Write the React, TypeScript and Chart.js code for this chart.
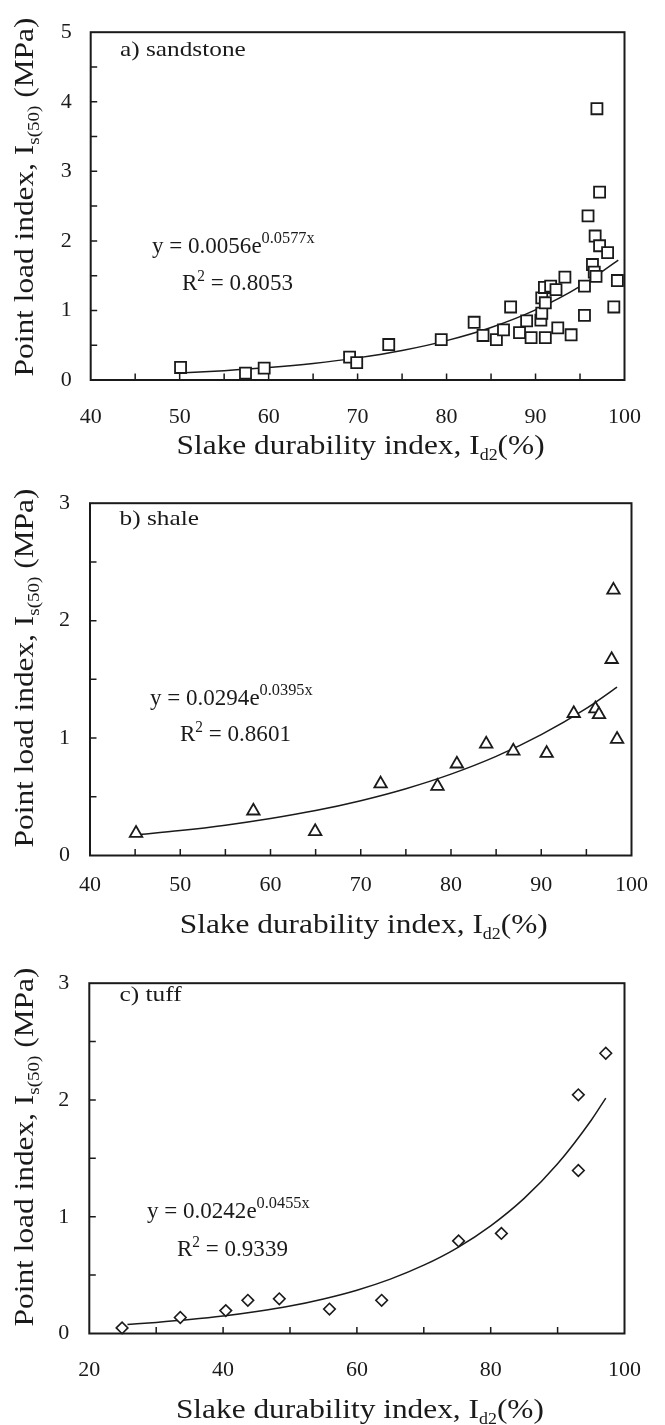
import React, { useEffect, useRef } from 'react';
import { Chart, registerables } from 'chart.js';

Chart.register(...registerables);

const FONT = "'Liberation Serif', 'Times New Roman', Times, serif";
const INK = '#1a1a1a';

// ---------- a) sandstone ----------
const sandstoneX = [50.1, 57.4, 59.5, 69.1, 69.9, 73.5, 79.4, 83.1, 84.1, 85.6, 86.4, 87.2, 88.2, 89.0, 89.5, 90.6, 90.7, 90.7, 91.0, 91.1, 91.1, 91.7, 92.3, 92.5, 93.3, 94.0, 95.5, 95.5, 95.9, 96.4, 96.6, 96.8, 96.7, 96.9, 97.2, 97.2, 98.1, 98.8, 99.2];
const sandstoneY = [0.18, 0.10, 0.17, 0.33, 0.25, 0.51, 0.58, 0.83, 0.64, 0.58, 0.72, 1.05, 0.68, 0.85, 0.61, 0.86, 0.96, 1.18, 1.33, 1.11, 0.61, 1.35, 1.30, 0.75, 1.48, 0.65, 0.93, 1.35, 2.36, 1.66, 1.55, 1.49, 2.07, 3.90, 1.93, 2.70, 1.83, 1.05, 1.43];
const sandstoneFitX = [50, 55, 60, 65, 70, 75, 80, 85, 90, 95, 99.3];
const sandstoneFitY = [0.100, 0.134, 0.179, 0.238, 0.318, 0.424, 0.566, 0.755, 1.008, 1.345, 1.724];
const sandstoneXTicks = [40, 50, 60, 70, 80, 90, 100];
const sandstoneXMarks = [45, 50, 55, 60, 65, 70, 75, 80, 85, 90, 95];
const sandstoneYTicks = [0, 1, 2, 3, 4, 5];
const sandstoneYMarks = [0.5, 1, 1.5, 2, 2.5, 3, 3.5, 4, 4.5];

// ---------- b) shale ----------
const shaleX = [45.1, 58.1, 64.95, 72.2, 78.5, 80.65, 83.9, 86.9, 90.6, 93.6, 96.0, 96.4, 98.0, 97.8, 98.4];
const shaleY = [0.19, 0.38, 0.205, 0.61, 0.59, 0.78, 0.95, 0.89, 0.87, 1.21, 1.25, 1.20, 2.26, 1.67, 0.99];
const shaleFitX = [45.1, 50, 55, 60, 65, 70, 75, 80, 85, 90, 95, 98.4];
const shaleFitY = [0.175, 0.212, 0.258, 0.315, 0.383, 0.467, 0.569, 0.693, 0.844, 1.029, 1.253, 1.434];
const shaleXTicks = [40, 50, 60, 70, 80, 90, 100];
const shaleXMarks = [45, 50, 55, 60, 65, 70, 75, 80, 85, 90, 95];
const shaleYTicks = [0, 1, 2, 3];
const shaleYMarks = [0.5, 1, 1.5, 2, 2.5];

// ---------- c) tuff ----------
const tuffX = [24.9, 33.6, 40.4, 43.7, 48.4, 55.9, 63.7, 75.2, 81.6, 93.1, 93.1, 97.2];
const tuffY = [0.048, 0.137, 0.196, 0.284, 0.297, 0.209, 0.284, 0.793, 0.857, 1.396, 2.044, 2.40];
const tuffFitX = [25.7, 30, 35, 40, 45, 50, 55, 60, 65, 70, 75, 80, 85, 90, 95, 97.2];
const tuffFitY = [0.078, 0.095, 0.119, 0.149, 0.188, 0.235, 0.296, 0.371, 0.466, 0.585, 0.734, 0.922, 1.157, 1.453, 1.824, 2.016];
const tuffXTicks = [20, 40, 60, 80, 100];
const tuffXMarks = [30, 40, 50, 60, 70, 80, 90];
const tuffYTicks = [0, 1, 2, 3];
const tuffYMarks = [0.5, 1, 1.5, 2, 2.5];

type Seg = { t: string; size: number; dy?: number };

function drawRich(
  ctx: CanvasRenderingContext2D,
  segs: Seg[],
  x: number,
  y: number,
  sx: number,
  center: boolean,
  rot: boolean
) {
  ctx.save();
  ctx.translate(x, y);
  if (rot) ctx.rotate(-Math.PI / 2);
  ctx.scale(sx, 1);
  ctx.fillStyle = INK;
  ctx.textBaseline = 'alphabetic';
  ctx.textAlign = 'left';
  const widths = segs.map((s) => {
    ctx.font = `${s.size}px ${FONT}`;
    return ctx.measureText(s.t).width;
  });
  const total = widths.reduce((a, b) => a + b, 0);
  let cx = center ? -total / 2 : 0;
  segs.forEach((s, i) => {
    ctx.font = `${s.size}px ${FONT}`;
    ctx.fillText(s.t, cx, s.dy ?? 0);
    cx += widths[i];
  });
  ctx.restore();
}

type PanelCfg = {
  canvasTop: number;
  canvasH: number;
  left: number;
  right: number;
  top: number;
  bottom: number;
  xMin: number;
  xMax: number;
  yMin: number;
  yMax: number;
  xs: number[];
  ys: number[];
  fx: number[];
  fy: number[];
  xTicks: number[];
  xMarks: number[];
  yTicks: number[];
  yMarks: number[];
  marker: string;
  radius: number;
  markerWidth: number;
  xPad: number;
  yPad: number;
  label: string;
  labelX: number;
  labelY: number;
  eq: Seg[];
  eqX: number;
  eqY: number;
  r2: Seg[];
  r2X: number;
  r2Y: number;
  xTitleY: number;
  yTitleY: number;
};

const W = 665;

const panels: PanelCfg[] = [
  {
    canvasTop: 0, canvasH: 470,
    left: 90.7, right: 629.3, top: 14.3, bottom: 380,
    xMin: 40, xMax: 100, yMin: 0, yMax: 5,
    xs: sandstoneX, ys: sandstoneY, fx: sandstoneFitX, fy: sandstoneFitY,
    xTicks: sandstoneXTicks, xMarks: sandstoneXMarks, yTicks: sandstoneYTicks, yMarks: sandstoneYMarks,
    marker: 'rect', radius: 7.8, markerWidth: 1.8,
    xPad: 24, yPad: 19,
    label: 'a) sandstone', labelX: 120, labelY: 56,
    eq: [{ t: 'y = 0.0056e', size: 24 }, { t: '0.0577x', size: 17, dy: -10 }], eqX: 152, eqY: 253,
    r2: [{ t: 'R', size: 24 }, { t: '2', size: 16, dy: -9 }, { t: ' = 0.8053', size: 24 }], r2X: 182, r2Y: 290,
    xTitleY: 454, yTitleY: 197,
  },
  {
    canvasTop: 470, canvasH: 480,
    left: 90, right: 635.5, top: 481, bottom: 855.5,
    xMin: 40, xMax: 100, yMin: 0, yMax: 3,
    xs: shaleX, ys: shaleY, fx: shaleFitX, fy: shaleFitY,
    xTicks: shaleXTicks, xMarks: shaleXMarks, yTicks: shaleYTicks, yMarks: shaleYMarks,
    marker: 'triangle', radius: 7.2, markerWidth: 1.8,
    xPad: 17, yPad: 20,
    label: 'b) shale', labelX: 119.5, labelY: 525,
    eq: [{ t: 'y = 0.0294e', size: 24 }, { t: '0.0395x', size: 17, dy: -10 }], eqX: 150, eqY: 705,
    r2: [{ t: 'R', size: 24 }, { t: '2', size: 16, dy: -9 }, { t: ' = 0.8601', size: 24 }], r2X: 180, r2Y: 741,
    xTitleY: 933, yTitleY: 668,
  },
  {
    canvasTop: 950, canvasH: 475,
    left: 89.3, right: 626.7, top: 961, bottom: 1333.5,
    xMin: 20, xMax: 100, yMin: 0, yMax: 3,
    xs: tuffX, ys: tuffY, fx: tuffFitX, fy: tuffFitY,
    xTicks: tuffXTicks, xMarks: tuffXMarks, yTicks: tuffYTicks, yMarks: tuffYMarks,
    marker: 'rectRot', radius: 5.8, markerWidth: 1.6,
    xPad: 24, yPad: 20,
    label: 'c) tuff', labelX: 119.5, labelY: 1001,
    eq: [{ t: 'y = 0.0242e', size: 24 }, { t: '0.0455x', size: 17, dy: -10 }], eqX: 147, eqY: 1218,
    r2: [{ t: 'R', size: 24 }, { t: '2', size: 16, dy: -9 }, { t: ' = 0.9339', size: 24 }], r2X: 177, r2Y: 1256,
    xTitleY: 1418, yTitleY: 1147,
  },
];

function buildConfig(p: PanelCfg): any {
  const top = p.top - p.canvasTop;
  const bottom = p.bottom - p.canvasTop;
  const decor = {
    id: 'decor',
    afterDraw(chart: any) {
      const ctx: CanvasRenderingContext2D = chart.ctx;
      const a = chart.chartArea;
      const xs = chart.scales.x;
      const ys = chart.scales.y;
      ctx.save();
      ctx.strokeStyle = INK;
      ctx.lineWidth = 1.5;
      ctx.beginPath();
      p.xMarks.forEach((v) => {
        const px = xs.getPixelForValue(v);
        ctx.moveTo(px, a.bottom);
        ctx.lineTo(px, a.bottom - 6.5);
      });
      p.yMarks.forEach((v) => {
        const py = ys.getPixelForValue(v);
        ctx.moveTo(a.left, py);
        ctx.lineTo(a.left + 6.5, py);
      });
      ctx.stroke();
      ctx.lineWidth = 2;
      ctx.strokeRect(a.left, a.top, a.right - a.left, a.bottom - a.top);
      ctx.restore();

      const off = p.canvasTop;
      drawRich(ctx, [{ t: p.label, size: 22 }], p.labelX, p.labelY - off, 1.15, false, false);
      drawRich(ctx, p.eq, p.eqX, p.eqY - off, 0.96, false, false);
      drawRich(ctx, p.r2, p.r2X, p.r2Y - off, 0.96, false, false);
      drawRich(
        ctx,
        [
          { t: 'Slake durability index, I', size: 28 },
          { t: 'd2', size: 16, dy: 6 },
          { t: '(%)', size: 28 },
        ],
        (a.left + a.right) / 2 + 3,
        p.xTitleY - off,
        1.12,
        true,
        false
      );
      drawRich(
        ctx,
        [
          { t: 'Point load index, I', size: 28 },
          { t: 's(50)', size: 17, dy: 6 },
          { t: ' (MPa)', size: 28 },
        ],
        33,
        p.yTitleY - off,
        1.12,
        true,
        true
      );
    },
  };

  return {
    type: 'scatter',
    data: {
      datasets: [
        {
          data: p.xs.map((x, i) => ({ x, y: p.ys[i] })),
          pointStyle: p.marker,
          pointRadius: p.radius,
          pointHoverRadius: p.radius,
          pointBackgroundColor: '#ffffff',
          pointBorderColor: INK,
          pointBorderWidth: p.markerWidth,
          showLine: false,
          clip: false,
        },
        {
          data: p.fx.map((x, i) => ({ x, y: p.fy[i] })),
          showLine: true,
          pointRadius: 0,
          borderColor: INK,
          borderWidth: 1.5,
          cubicInterpolationMode: 'monotone',
          fill: false,
          clip: false,
        },
      ],
    },
    options: {
      animation: false,
      responsive: false,
      maintainAspectRatio: false,
      events: [],
      layout: { padding: { left: 0, top, right: W - p.right, bottom: 0 } },
      plugins: { legend: { display: false }, tooltip: { enabled: false }, title: { display: false } },
      scales: {
        x: {
          type: 'linear',
          min: p.xMin,
          max: p.xMax,
          grid: { display: false, drawTicks: false },
          border: { display: false },
          ticks: { font: { family: FONT, size: 22 }, color: INK, padding: p.xPad, autoSkip: false, maxRotation: 0 },
          afterBuildTicks: (s: any) => {
            s.ticks = p.xTicks.map((v) => ({ value: v }));
          },
          afterFit: (s: any) => {
            s.height = p.canvasH - bottom;
          },
        },
        y: {
          type: 'linear',
          min: p.yMin,
          max: p.yMax,
          grid: { display: false, drawTicks: false },
          border: { display: false },
          ticks: { font: { family: FONT, size: 22 }, color: INK, padding: p.yPad, autoSkip: false },
          afterBuildTicks: (s: any) => {
            s.ticks = p.yTicks.map((v) => ({ value: v }));
          },
          afterFit: (s: any) => {
            s.width = p.left;
          },
        },
      },
    },
    plugins: [decor],
  };
}

function Panel({ cfg }: { cfg: PanelCfg }) {
  const ref = useRef<HTMLCanvasElement>(null);
  useEffect(() => {
    const chart = new Chart(ref.current as HTMLCanvasElement, buildConfig(cfg));
    return () => chart.destroy();
  }, [cfg]);
  return (
    <canvas
      ref={ref}
      width={W}
      height={cfg.canvasH}
      style={{ position: 'absolute', left: 0, top: cfg.canvasTop, width: W, height: cfg.canvasH }}
    />
  );
}

export default function App() {
  return (
    <div style={{ position: 'absolute', left: 0, top: 0, width: W, height: 1425, background: '#ffffff' }}>
      {panels.map((p, i) => (
        <Panel key={i} cfg={p} />
      ))}
    </div>
  );
}
